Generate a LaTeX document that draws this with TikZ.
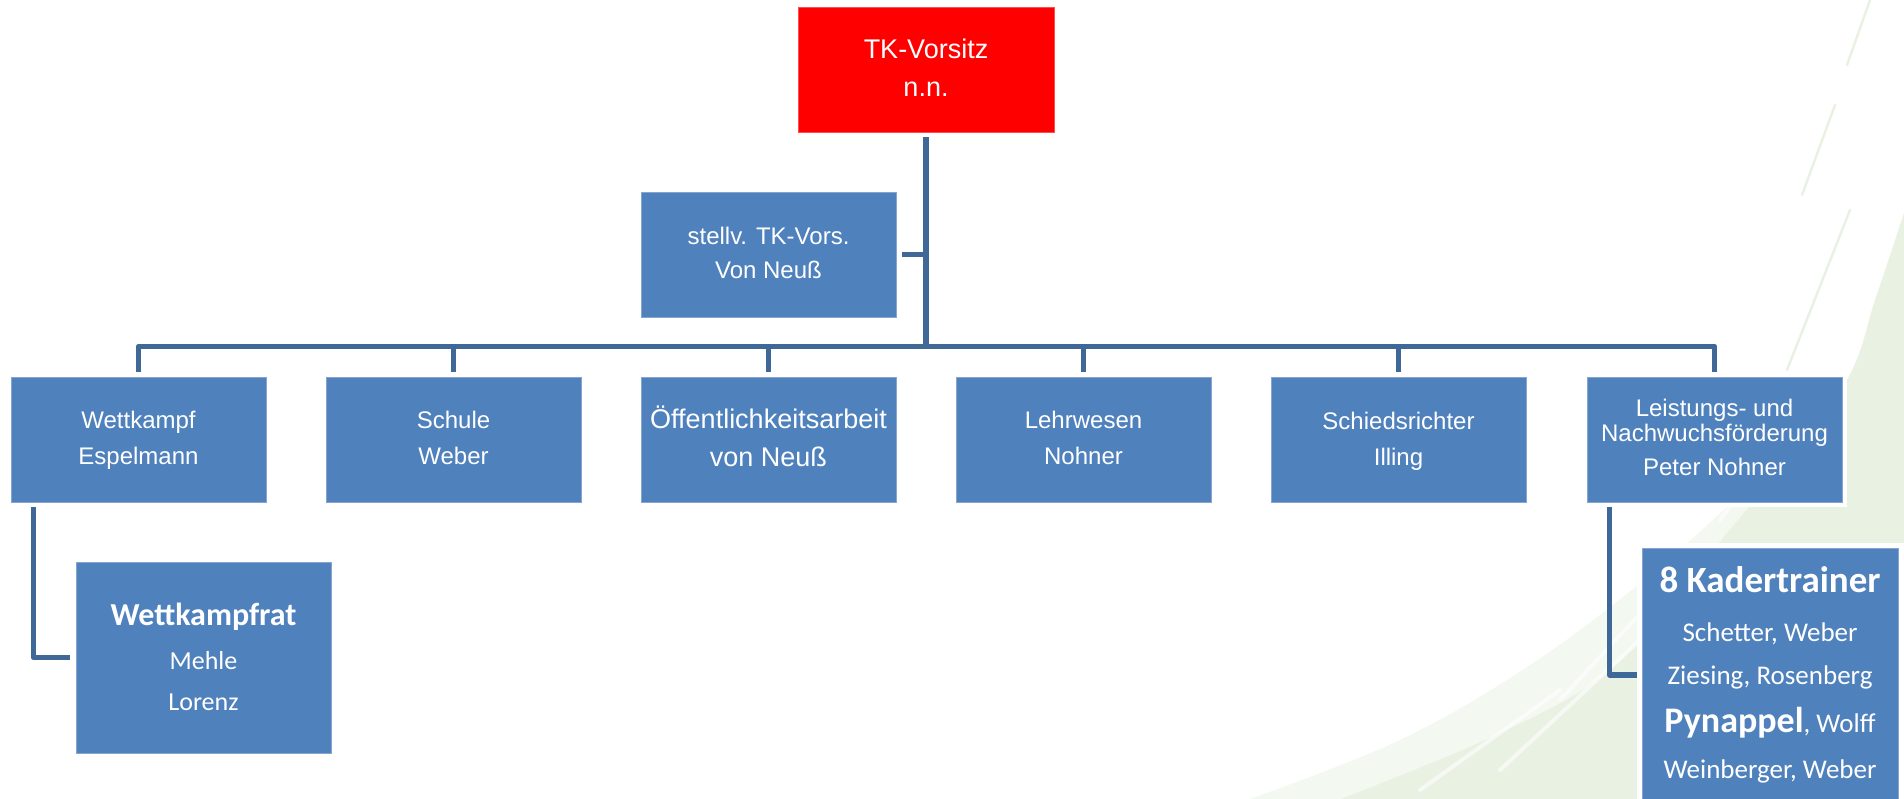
\documentclass[tikz,border=0pt]{standalone}
\usepackage{fontspec}
\setmainfont{Liberation Sans}
\newfontfamily\calibri{Carlito}
\usetikzlibrary{calc}
\definecolor{boxblue}{HTML}{4F81BD}
\definecolor{boxedge}{HTML}{86A6D0}
\definecolor{linecol}{HTML}{3F6798}
\definecolor{tkred}{HTML}{FF0000}
\definecolor{bggreen}{HTML}{E9F1E3}
\definecolor{bggreenlight}{HTML}{F3F8F0}
\tikzset{
  orgbox/.style={rectangle, draw=boxedge, line width=0.8pt, fill=boxblue, minimum width=255pt, minimum height=125pt, inner sep=0pt},
  topbox/.style={orgbox, fill=tkred, draw=tkred!70},
  txt/.style={text=white, anchor=base, inner sep=0pt, font=\fontsize{24}{28}\selectfont},
  bigtxt/.style={txt, font=\fontsize{27}{32}\selectfont},
  ctxt/.style={txt, font=\calibri\fontsize{27}{31}\selectfont},
  cbold/.style={txt, font=\calibri\bfseries\fontsize{37}{40}\selectfont},
  conn/.style={draw=linecol, line width=5.5pt, line join=round},
  streak/.style={bggreen, line width=2.5pt, line cap=round},
  wstreak/.style={white, line width=4pt, line cap=round, opacity=0.6}
}
\begin{document}
\begin{tikzpicture}[x=1pt,y=-1pt]
\useasboundingbox (0,0) rectangle (1904,799);
% background swoosh
\fill[bggreenlight] plot[smooth, tension=0.6] coordinates {(1904,213) (1847,380) (1760,475) (1650,575) (1530,665) (1400,740) (1250,799)} -- (1904,799) -- cycle;
\fill[bggreen] plot[smooth, tension=0.6] coordinates {(1904,213) (1875,300) (1847,380) (1775,475) (1700,565) (1610,670) (1496,735) (1341,799)} -- (1904,799) -- cycle;
\draw[streak] (1870,0) -- (1847,65);
\draw[streak] (1835,105) -- (1802,195);
\draw[streak] (1850,210) -- (1787,370);
\draw[wstreak] (1690,560) -- (1560,700);
\draw[wstreak] (1640,640) -- (1500,770);
\draw[wstreak] (1560,690) -- (1420,790);
\draw[wstreak] (1790,430) -- (1720,520);
% boxes
\node[topbox, minimum width=256pt] (top) at (926,69.5) {};
\node[orgbox] (stv) at (768.5,254.5) {};
\node[orgbox] (c1) at (138.5,439.5) {};
\node[orgbox] (c2) at (453.5,439.5) {};
\node[orgbox] (c3) at (768.5,439.5) {};
\node[orgbox] (c4) at (1083.5,439.5) {};
\node[orgbox] (c5) at (1398.5,439.5) {};
\fill[white] (1582,372) rectangle (1847,507);
\node[orgbox] (c6) at (1714.5,439.5) {};
\node[orgbox, minimum height=191pt] (wr) at (203.5,657.5) {};
\fill[white] (1637,543) rectangle (1904,799);
\node[orgbox, minimum width=256pt, minimum height=254pt] (kt) at (1770,675) {};
% texts
\node[bigtxt] (topa) at ($(top.north)+(0,52)$) {TK-Vorsitz};
\node[bigtxt] (topb) at ($(top.north)+(0,90)$) {n.n.};
\node[txt] (stva) at ($(stv.north)+(0,53)$) {stellv. TK-Vors.};
\node[txt] (stvb) at ($(stv.north)+(0,87)$) {Von Neuß};
\node[txt] (c1a) at ($(c1.north)+(0,52)$) {Wettkampf};
\node[txt] (c1b) at ($(c1.north)+(0,88)$) {Espelmann};
\node[txt] (c2a) at ($(c2.north)+(0,52)$) {Schule};
\node[txt] (c2b) at ($(c2.north)+(0,88)$) {Weber};
\node[bigtxt] (c3a) at ($(c3.north)+(0,52)$) {Öffentlichkeitsarbeit};
\node[bigtxt] (c3b) at ($(c3.north)+(0,90)$) {von Neuß};
\node[txt] (c4a) at ($(c4.north)+(0,52)$) {Lehrwesen};
\node[txt] (c4b) at ($(c4.north)+(0,88)$) {Nohner};
\node[txt] (c5a) at ($(c5.north)+(0,53)$) {Schiedsrichter};
\node[txt] (c5b) at ($(c5.north)+(0,89)$) {Illing};
\node[txt] (c6a) at ($(c6.north)+(0,40)$) {Leistungs- und};
\node[txt] (c6b) at ($(c6.north)+(0,65)$) {Nachwuchsförderung};
\node[txt] (c6c) at ($(c6.north)+(0,99)$) {Peter Nohner};
\node[cbold, font=\calibri\bfseries\fontsize{32}{36}\selectfont] (wra) at ($(wr.north)+(0,64)$) {Wettkampfrat};
\node[ctxt, font=\calibri\fontsize{26}{30}\selectfont] (wrb) at ($(wr.north)+(0,108)$) {Mehle};
\node[ctxt, font=\calibri\fontsize{26}{30}\selectfont] (wrc) at ($(wr.north)+(0,149)$) {Lorenz};
\node[cbold] (kta) at ($(kt.north)+(0,45)$) {8 Kadertrainer};
\node[ctxt] (ktb) at ($(kt.north)+(0,94)$) {Schetter, Weber};
\node[ctxt] (ktc) at ($(kt.north)+(0,137)$) {Ziesing, Rosenberg};
\node[ctxt] (ktd) at ($(kt.north)+(0,185)$) {{\bfseries\fontsize{36}{39}\selectfont Pynappel}, Wolff};
\node[ctxt] (kte) at ($(kt.north)+(0,231)$) {Weinberger, Weber};
% connectors
\coordinate (bus) at ($(c1.north)+(0,-30)$);
\draw[conn] ($(top.south)+(0,5)$) -- (top.south |- bus);
\draw[conn] ($(c1.north)+(0,-5)$) -- (c1.north |- bus) -- (c6.north |- bus) -- ($(c6.north)+(0,-5)$);
\foreach \n in {c2,c3,c4,c5}{
  \draw[conn] ($(\n.north)+(0,-5)$) -- (\n.north |- bus);
}
\draw[conn] ($(stv.east)+(6,0)$) -- (stv.east -| top.south);
\draw[conn] ($(c1.south west)+(23,5)$) |- ($(wr.west)+(-6,0)$);
\draw[conn] ($(c6.south west)+(23,5)$) |- ($(kt.west)+(-5,0)$);
\end{tikzpicture}
\end{document}
